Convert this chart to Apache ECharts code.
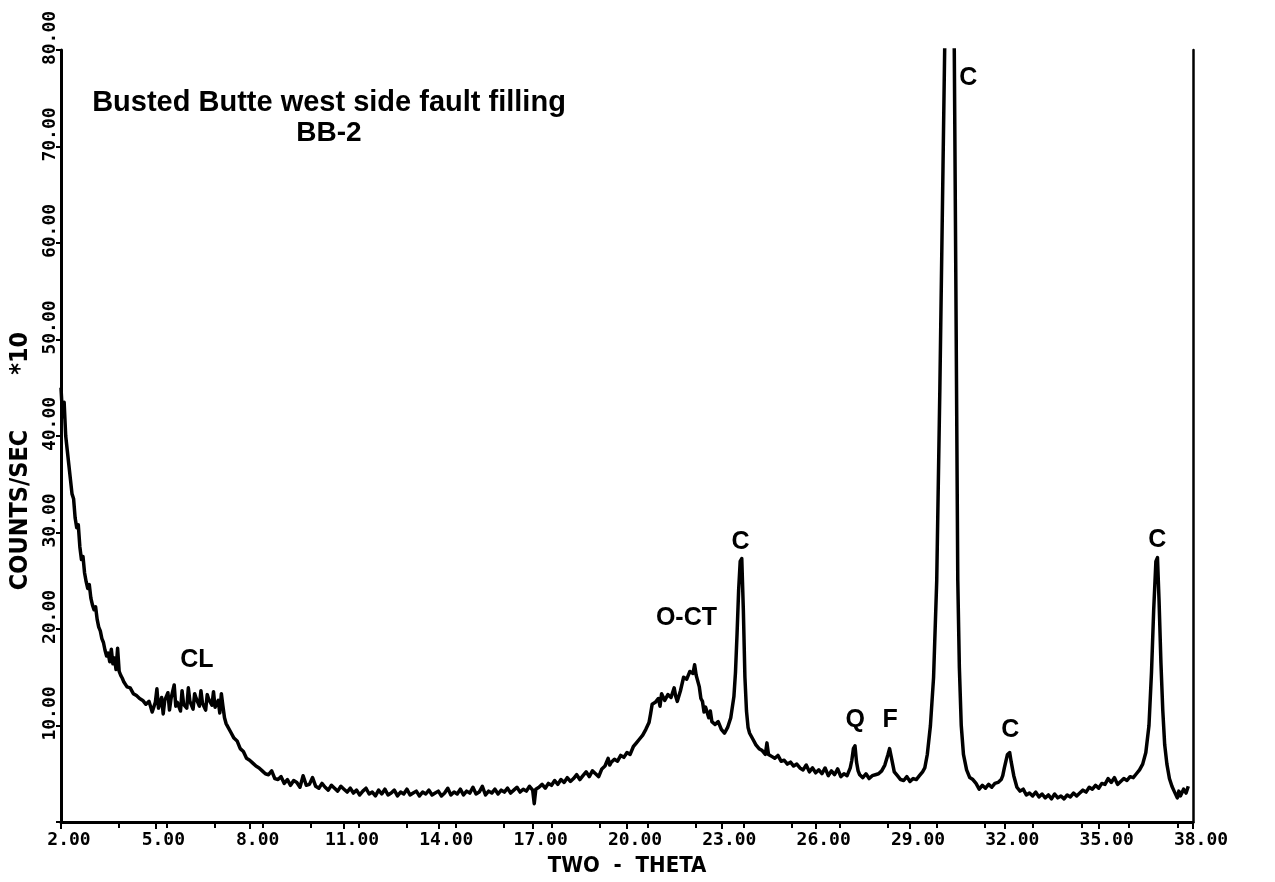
<!DOCTYPE html>
<html>
<head>
<meta charset="utf-8">
<script src="https://cdn.jsdelivr.net/npm/echarts@6/dist/echarts.min.js"></script>
<style>html,body{margin:0;padding:0;background:#fff;}#c{width:1275px;height:882px;}</style>
</head>
<body>
<div id="c"></div>
<script>
const twoTheta = [2.00,2.05,2.10,2.15,2.20,2.25,2.30,2.35,2.40,2.45,2.50,2.55,2.60,2.65,2.70,2.75,2.80,2.85,2.90,2.95,
3.00,3.05,3.10,3.15,3.20,3.25,3.30,3.35,3.40,3.45,3.50,3.55,3.60,3.65,3.70,3.75,3.80,3.85,3.90,3.95,
4.00,4.10,4.20,4.30,4.40,4.50,4.60,4.70,4.80,4.90,5.00,5.05,5.10,5.20,5.25,5.30,5.40,5.45,5.50,5.60,5.65,5.70,5.80,5.85,5.90,
6.00,6.05,6.10,6.20,6.25,6.30,6.40,6.45,6.50,6.60,6.65,6.70,6.80,6.85,6.90,7.00,7.05,7.10,7.15,7.20,7.25,7.30,7.40,7.50,7.60,7.70,7.80,7.90,
8.00,8.10,8.20,8.30,8.40,8.50,8.60,8.70,8.80,8.90,9.00,9.10,9.20,9.30,9.40,9.50,9.60,9.70,9.80,9.90,
10.00,10.10,10.20,10.30,10.40,10.50,10.60,10.70,10.80,10.90,11.00,11.10,11.20,11.30,11.40,11.50,11.60,11.70,11.80,11.90,
12.00,12.10,12.20,12.30,12.40,12.50,12.60,12.70,12.80,12.90,13.00,13.10,13.20,13.30,13.40,13.50,13.60,13.70,13.80,13.90,
14.00,14.10,14.20,14.30,14.40,14.50,14.60,14.70,14.80,14.90,15.00,15.10,15.20,15.30,15.40,15.50,15.60,15.70,15.80,15.90,
16.00,16.10,16.20,16.30,16.40,16.50,16.60,16.70,16.80,16.90,17.00,17.05,17.10,17.20,17.30,17.40,17.50,17.60,17.70,17.80,17.90,
18.00,18.10,18.20,18.30,18.40,18.50,18.60,18.70,18.80,18.90,19.00,19.10,19.20,19.30,19.40,19.45,19.50,19.60,19.70,19.80,19.90,
20.00,20.10,20.20,20.30,20.40,20.50,20.60,20.70,20.75,20.80,20.90,21.00,21.05,21.10,21.20,21.30,21.40,21.50,21.55,21.60,21.70,21.80,21.90,
22.00,22.10,22.15,22.20,22.30,22.35,22.40,22.45,22.50,22.60,22.65,22.70,22.80,22.90,23.00,23.10,23.20,23.30,23.40,23.45,23.50,23.55,23.60,23.65,23.70,23.75,23.80,23.85,23.90,
24.00,24.10,24.20,24.30,24.40,24.45,24.50,24.60,24.70,24.80,24.90,25.00,25.10,25.20,25.30,25.40,25.50,25.60,25.70,25.80,25.90,
26.00,26.10,26.20,26.30,26.40,26.50,26.60,26.70,26.80,26.90,27.00,27.10,27.15,27.20,27.25,27.30,27.35,27.40,27.50,27.60,27.70,27.80,27.90,
28.00,28.10,28.20,28.30,28.35,28.42,28.50,28.60,28.70,28.80,28.90,29.00,29.10,29.20,29.30,29.40,29.47,29.55,29.65,29.75,29.85,29.95,
30.05,30.12,30.26,30.40,30.46,30.52,30.57,30.63,30.70,30.80,30.90,31.00,31.10,31.20,31.30,31.40,31.50,31.60,31.70,31.80,31.90,31.95,
32.00,32.05,32.10,32.17,32.22,32.30,32.40,32.50,32.60,32.70,32.80,32.90,33.00,33.10,33.20,33.30,33.40,33.50,33.60,33.70,33.80,33.90,
34.00,34.10,34.20,34.30,34.40,34.50,34.60,34.70,34.80,34.90,35.00,35.10,35.20,35.30,35.40,35.50,35.60,35.70,35.80,35.90,
36.00,36.10,36.20,36.30,36.40,36.50,36.60,36.68,36.75,36.82,36.87,36.92,36.98,37.04,37.10,37.17,37.25,37.33,37.40,37.50,37.55,37.60,37.70,37.78,37.85];

const counts = [45.0,42.0,43.5,40.0,38.5,37.0,35.5,34.0,33.5,31.5,30.5,30.8,28.5,27.2,27.5,25.8,24.9,24.2,24.6,23.2,
22.5,22.0,22.3,21.0,20.2,19.8,19.0,18.6,17.8,17.2,17.5,16.6,17.9,16.4,17.0,15.8,18.0,15.6,15.2,14.9,
14.5,14.0,13.9,13.3,13.1,12.8,12.6,12.2,12.5,11.4,12.4,13.8,11.8,12.9,11.2,12.6,13.4,11.6,12.8,14.2,12.0,12.4,11.5,13.6,12.2,
11.8,13.9,12.5,11.7,13.3,12.8,12.0,13.6,12.3,11.6,13.2,12.7,12.1,13.5,11.9,12.6,11.3,13.3,12.0,10.8,10.2,10.0,9.3,8.7,8.4,7.6,7.3,6.6,
6.4,6.1,5.8,5.6,5.3,5.0,4.9,5.3,4.5,4.4,4.7,4.0,4.4,3.8,4.3,4.1,3.6,4.8,3.8,3.9,
4.6,3.7,3.5,4.0,3.6,3.3,3.8,3.5,3.2,3.7,3.4,3.1,3.5,3.0,3.3,2.8,3.2,3.5,2.9,3.1,
2.7,3.3,2.9,3.4,2.8,3.0,3.3,2.7,3.1,2.9,3.4,2.8,3.0,3.2,2.7,3.1,2.9,3.3,2.8,3.0,
3.2,2.7,3.0,3.5,2.8,3.1,2.9,3.4,2.8,3.2,3.0,3.6,2.9,3.1,3.7,2.8,3.2,3.0,3.4,2.9,
3.3,3.1,3.5,3.0,3.3,3.6,3.1,3.4,3.2,3.7,3.3,1.9,3.4,3.6,3.9,3.5,4.0,3.8,4.3,3.9,4.4,
4.1,4.6,4.2,4.5,4.9,4.4,4.8,5.2,4.7,5.3,5.0,4.7,5.5,5.8,6.6,5.9,6.2,6.5,6.3,6.9,6.7,
7.2,7.0,7.8,8.2,8.6,9.0,9.6,10.3,11.2,12.2,12.4,12.8,12.0,13.3,12.6,13.2,12.9,13.9,13.0,12.5,13.6,15.0,14.8,
15.6,15.4,16.3,15.2,14.0,12.8,12.5,11.4,11.9,10.8,11.5,10.4,10.1,10.4,9.6,9.2,9.8,10.8,13.0,15.5,19.5,24.0,27.0,27.3,22.0,15.0,11.5,9.8,9.2,
8.6,8.0,7.6,7.4,7.0,8.2,7.0,6.8,6.6,6.9,6.3,6.4,6.0,6.2,5.8,6.0,5.6,5.4,5.9,5.2,5.6,
5.1,5.4,5.0,5.6,4.8,5.3,4.9,5.5,4.7,5.0,4.8,5.6,6.4,7.6,7.9,6.2,5.3,4.9,4.6,5.0,4.5,4.8,4.9,
5.0,5.3,5.9,7.0,7.6,6.5,5.2,4.8,4.4,4.3,4.7,4.2,4.5,4.4,4.8,5.2,5.6,7.0,10.0,15.0,25.0,45.0,
68.0,84.0,100.0,84.0,55.0,25.0,16.0,10.0,7.0,5.4,4.6,4.4,4.0,3.4,3.8,3.5,3.9,3.6,4.0,4.1,4.4,4.8,
5.6,6.3,7.0,7.2,6.2,4.8,3.6,3.2,3.4,2.8,3.0,2.7,3.1,2.6,2.9,2.5,2.8,2.4,2.9,2.5,2.7,2.4,
2.8,2.6,3.0,2.7,3.0,3.3,3.1,3.6,3.4,3.8,3.5,4.0,3.9,4.5,4.1,4.6,3.9,4.2,4.5,4.3,
4.7,4.6,5.0,5.4,6.0,7.2,10.0,15.5,22.0,27.0,27.4,23.0,16.5,11.5,8.0,6.0,4.5,3.7,3.2,2.5,3.2,2.7,3.4,3.0,3.7];

const xTickValues = [2,5,8,11,14,17,20,23,26,29,32,35,38];
const topTickValues = [3.85,5.37,6.9,8.42,9.95,11.48,13.0,14.55,16.08,17.6,19.13,20.66,22.2,23.72,25.25,26.78,28.3,29.85,31.38,32.9,34.45,35.97,37.5];
const yTickValues = [0,10,20,30,40,50,60,70,80];

const annoText = ['CL','O-CT','C','Q','F','C','C','C'];
const annoX = [6.32,21.89,23.61,27.26,28.37,30.85,32.19,36.86];
const annoY = [16.8,21.1,29.0,10.6,10.6,77.1,9.5,29.2];

const titleText = 'Busted Butte west side fault filling';
const subtitleText = 'BB-2';
const xName = 'TWO  -  THETA';
const yName = 'COUNTS/SEC       *10';

const lineData = twoTheta.map((x, i) => [x, counts[i]]);
const annoData = annoText.map((t, i) => ({ name: t, value: [annoX[i], annoY[i]] }));

const tickFont = { fontFamily: 'DejaVu Sans Mono', fontWeight: 'bold', fontSize: 18, color: '#000' };

const chart = echarts.init(document.getElementById('c'));
chart.setOption({
  animation: false,
  backgroundColor: '#fff',
  title: {
    text: titleText,
    subtext: subtitleText,
    left: 324,
    top: 83,
    textAlign: 'center',
    itemGap: 2,
    textStyle: { fontFamily: 'Liberation Sans', fontWeight: 'bold', fontSize: 29, color: '#000' },
    subtextStyle: { fontFamily: 'Liberation Sans', fontWeight: 'bold', fontSize: 28, color: '#000' }
  },
  grid: { left: 61, right: 82, top: 50, bottom: 60, containLabel: false },
  xAxis: [{
    type: 'value', min: 2, max: 38, position: 'bottom',
    name: xName, nameLocation: 'middle', nameGap: 33,
    nameTextStyle: { fontFamily: 'DejaVu Sans Condensed', fontWeight: 'bold', fontSize: 22, color: '#000' },
    axisLine: { show: true, lineStyle: { color: '#000', width: 3 } },
    axisTick: { show: true, inside: false, length: 7, customValues: xTickValues, lineStyle: { color: '#000', width: 2 } },
    axisLabel: Object.assign({ show: true, margin: 9, customValues: xTickValues, padding: [0, 0, 0, 16],
      formatter: v => v.toFixed(2) }, tickFont),
    splitLine: { show: false }
  }, {
    type: 'value', min: 2, max: 38, position: 'top',
    axisLine: { show: true, lineStyle: { color: '#000', width: 2.5 } },
    axisTick: { show: true, inside: true, length: 6, customValues: topTickValues, lineStyle: { color: '#000', width: 2 } },
    axisLabel: { show: false },
    splitLine: { show: false }
  }],
  yAxis: [{
    type: 'value', min: 0, max: 80, interval: 10, position: 'left',
    name: yName, nameLocation: 'middle', nameGap: 26, nameRotate: 90,
    nameTextStyle: { fontFamily: 'DejaVu Sans Condensed', fontWeight: 'bold', fontSize: 25, color: '#000', padding: [0, 50, 0, 0] },
    axisLine: { show: true, lineStyle: { color: '#000', width: 3 } },
    axisTick: { show: true, inside: false, length: 5, lineStyle: { color: '#000', width: 2 } },
    axisLabel: Object.assign({ show: true, rotate: 90, margin: 2, padding: [0, 0, 0, 24],
      showMinLabel: true, showMaxLabel: true,
      formatter: v => (v === 0 ? '' : v.toFixed(2)) }, tickFont),
    splitLine: { show: false }
  }, {
    type: 'value', min: 0, max: 80, interval: 10, position: 'right',
    axisLine: { show: true, lineStyle: { color: '#000', width: 2.5 } },
    axisTick: { show: false },
    axisLabel: { show: false },
    splitLine: { show: false }
  }],
  series: [{
    type: 'line',
    data: lineData,
    xAxisIndex: 0, yAxisIndex: 0,
    symbol: 'none',
    clip: true,
    lineStyle: { color: '#000', width: 3.5, join: 'round' },
    z: 3
  }, {
    type: 'scatter',
    data: annoData,
    xAxisIndex: 0, yAxisIndex: 0,
    symbolSize: 0,
    silent: true,
    itemStyle: { opacity: 1, color: '#000' },
    label: {
      show: true, position: 'inside', formatter: p => p.name, opacity: 1,
      fontFamily: 'Liberation Sans', fontWeight: 'bold', fontSize: 25, color: '#000'
    },
    z: 5
  }]
});
</script>
</body>
</html>
